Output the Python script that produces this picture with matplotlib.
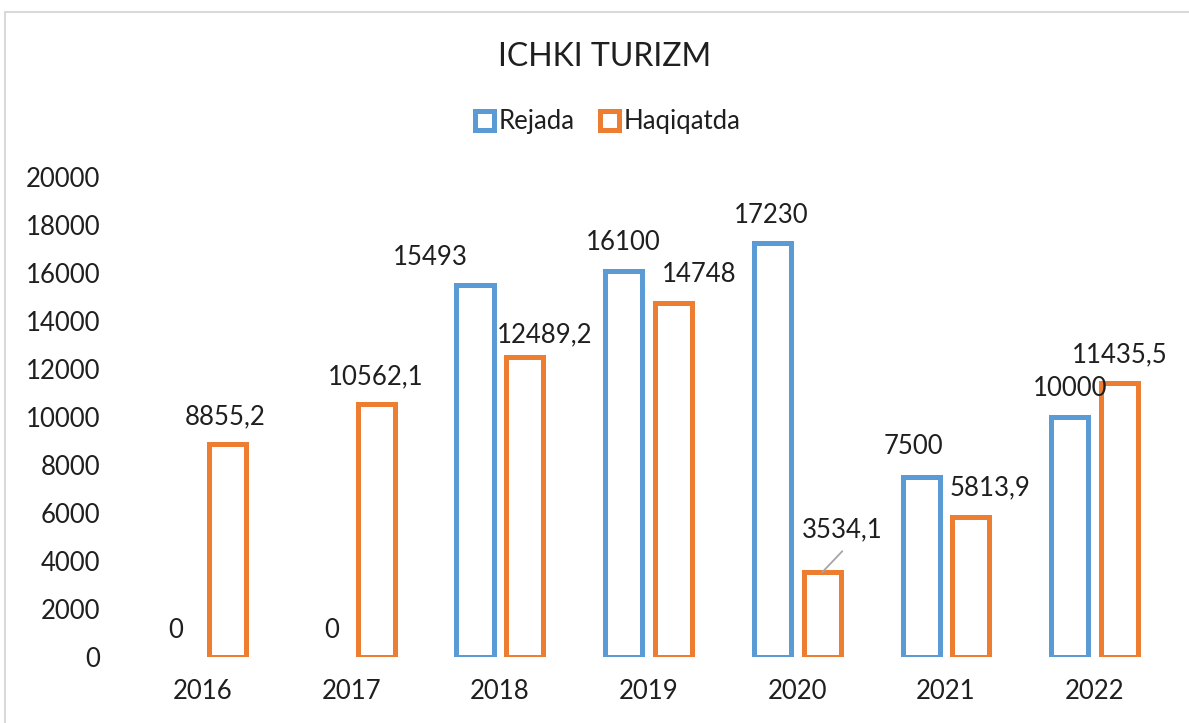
import matplotlib
matplotlib.use("Agg")
import matplotlib.pyplot as plt
from matplotlib.patches import Rectangle, Patch
import numpy as np

years = ["2016", "2017", "2018", "2019", "2020", "2021", "2022"]
rejada = [0, 0, 15493, 16100, 17230, 7500, 10000]
haqiqatda = [8855.2, 10562.1, 12489.2, 14748, 3534.1, 5813.9, 11435.5]
title = "ICHKI TURIZM"
series_names = ["Rejada", "Haqiqatda"]
yticks = list(range(0, 20001, 2000))

# label offsets (pixels) relative to bar top centre
rej_off = [(-2, 27), (5, 27), (-45, 28), (0, 28), (-1, 27.5), (-8, 31), (0, 29)]
haq_off = [(-2, 27.5), (-1, 27), (20, 22), (26, 29), (20, 42), (19, 29.5), (0, 28)]

BLUE = "#5B9BD5"
ORANGE = "#ED7D31"
TXT = "#1f1f1f"
FONT = "Lato"
FS = 18.5

plt.rcParams["font.family"] = [FONT, "DejaVu Sans"]

W, H = 1189, 723
fig = plt.figure(figsize=(W / 100, H / 100), dpi=100)
left, right, top, bottom = 128.3, 1169, 177, 657
ax = fig.add_axes([left / W, (H - bottom) / H, (right - left) / W, (bottom - top) / H])

x = np.arange(len(years))
bw = 0.249
off = 0.168
lw = 3.6
b1 = ax.bar(x - off, rejada, bw, facecolor="none", edgecolor=BLUE, linewidth=lw,
            joinstyle="miter")
b2 = ax.bar(x + off, haqiqatda, bw, facecolor="none", edgecolor=ORANGE, linewidth=lw,
            joinstyle="miter")
# zero-height bars are not drawn
for p in list(b1.patches) + list(b2.patches):
    if p.get_height() == 0:
        p.set_visible(False)

ax.set_xlim(-0.5, len(years) - 0.5)
ax.set_ylim(0, 20000)
ax.set_yticks(yticks)
ax.set_yticklabels([str(v) for v in yticks])
ax.set_xticks(x)
ax.set_xticklabels(years)
for s in ax.spines.values():
    s.set_visible(False)
ax.tick_params(axis="both", length=0, labelsize=FS, colors=TXT)
ax.tick_params(axis="y", pad=20)
ax.tick_params(axis="x", pad=16)


def fmt(v):
    if float(v).is_integer():
        return str(int(v))
    return ("%.1f" % v).replace(".", ",")


for i in range(len(years)):
    ax.annotate(fmt(rejada[i]), xy=(x[i] - off, rejada[i]), xytext=rej_off[i],
                textcoords="offset pixels", ha="center", va="center",
                fontsize=FS, color=TXT)
    ax.annotate(fmt(haqiqatda[i]), xy=(x[i] + off, haqiqatda[i]), xytext=haq_off[i],
                textcoords="offset pixels", ha="center", va="center",
                fontsize=FS, color=TXT)

# leader line for 2020 Haqiqatda label
i2020 = years.index("2020")
ax.annotate("", xy=(x[i2020] + off, haqiqatda[i2020]), xytext=(20, 21),
            textcoords="offset pixels",
            arrowprops=dict(arrowstyle="-", color="#A6A6A6", lw=1.3,
                            shrinkA=0, shrinkB=0))

fig.text(605 / W, 1 - 57 / H, title, ha="center", va="center", fontsize=23, color=TXT)

handles = [Patch(facecolor="none", edgecolor=BLUE, linewidth=lw, joinstyle="miter"),
           Patch(facecolor="none", edgecolor=ORANGE, linewidth=lw, joinstyle="miter")]
leg = fig.legend(handles=handles, labels=series_names, loc="center",
                 bbox_to_anchor=(608 / W, 1 - 122 / H), ncol=2, frameon=False,
                 fontsize=FS, handlelength=0.72, handleheight=0.72,
                 handletextpad=0.2, columnspacing=1.0, labelcolor=TXT)

# chart border
fig.patches.append(Rectangle((5 / W, -0.05), 1.1, (H - 12) / H + 0.05,
                             transform=fig.transFigure, fill=False,
                             edgecolor="#D9D9D9", linewidth=1.5))

fig.savefig("out.png", dpi=100)
